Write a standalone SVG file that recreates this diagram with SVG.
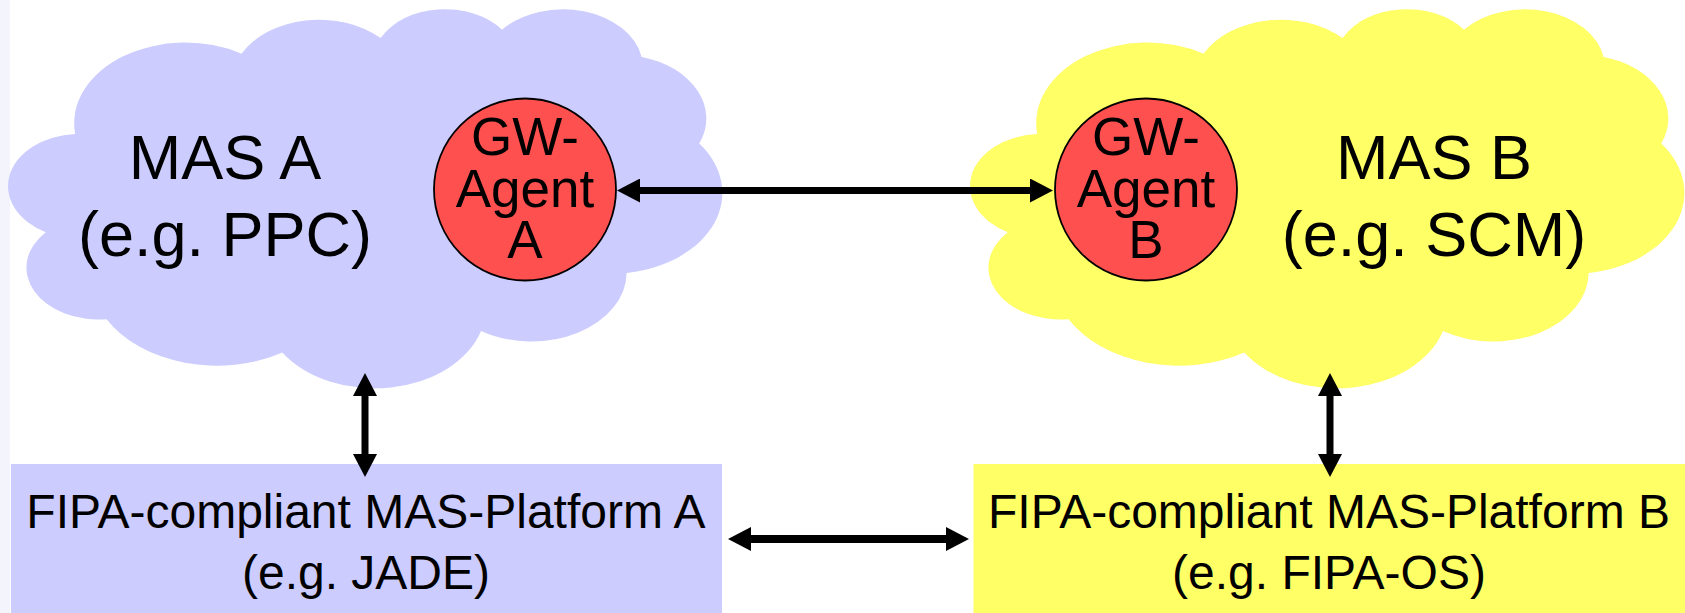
<svg xmlns="http://www.w3.org/2000/svg" xmlns:xlink="http://www.w3.org/1999/xlink" width="1685" height="613" viewBox="0 0 1685 613">
<style>
.lav{fill:#CCCCFF}
.yel{fill:#FFFF66}
.agent{fill:#FF5050;stroke:#000;stroke-width:1.8}
text{font-family:"Liberation Sans",Arial,sans-serif;fill:#000;text-anchor:middle}
.big{font-size:63px}
.mid{font-size:53px}
.small{font-size:48px}
.conn{stroke:#000;stroke-width:7;fill:none;marker-start:url(#head);marker-end:url(#head)}
</style>
<defs>
<path id="cloud" d="M 64.19 126.07 A 111.14 80.62 0 0 1 230.50 45.64 A 87.77 63.75 0 0 1 369.59 30.09 A 71.84 52.16 0 0 1 490.99 21.72 A 79.94 57.86 0 0 1 630.65 48.88 A 87.77 63.81 0 0 1 688.26 135.58 A 111.51 80.89 0 0 1 615.63 264.95 A 95.21 69.02 0 0 1 470.00 322.94 A 111.13 80.84 0 0 1 271.27 344.45 A 127.06 92.49 0 0 1 95.56 311.18 A 71.76 51.92 0 0 1 34.81 224.13 A 71.51 52.16 0 0 1 64.19 126.07 Z"/>
<marker id="head" markerUnits="userSpaceOnUse" viewBox="0 0 23 24" markerWidth="23" markerHeight="24" refX="0.5" refY="12" orient="auto-start-reverse">
<path d="M0,0 L23,12 L0,24 Z" fill="#000"/>
</marker>
</defs>
<rect x="0" y="0" width="1685" height="613" fill="#fff"/>
<rect x="0" y="0" width="10" height="613" fill="#F4F4FC"/>

<g id="mas-a">
<use xlink:href="#cloud" href="#cloud" class="lav" transform="translate(11,8)"/>
<text class="big" x="225" y="179">MAS A</text>
<text class="big" x="225" y="256">(e.g. PPC)</text>
</g>
<g id="mas-b">
<use xlink:href="#cloud" href="#cloud" class="yel" transform="translate(973,8)"/>
<text class="big" x="1434" y="179">MAS B</text>
<text class="big" x="1434" y="256">(e.g. SCM)</text>
</g>
<g id="gw-agent-a">
<circle class="agent" cx="525" cy="189.5" r="91"/>
<text class="mid" x="525" y="155">GW-</text>
<text class="mid" x="525" y="207">Agent</text>
<text class="mid" x="525" y="258">A</text>
</g>
<g id="gw-agent-b">
<circle class="agent" cx="1146" cy="189.5" r="91"/>
<text class="mid" x="1146" y="155">GW-</text>
<text class="mid" x="1146" y="207">Agent</text>
<text class="mid" x="1146" y="258">B</text>
</g>
<g id="platform-a">
<rect class="lav" x="11" y="464" width="711" height="149"/>
<text class="small" x="366" y="528">FIPA-compliant MAS-Platform A</text>
<text class="small" x="366" y="589">(e.g. JADE)</text>
</g>
<g id="platform-b">
<rect class="yel" x="973.5" y="464" width="711.5" height="149"/>
<text class="small" x="1329" y="528">FIPA-compliant MAS-Platform B</text>
<text class="small" x="1329" y="589">(e.g. FIPA-OS)</text>
</g>
<g id="connectors">
<line class="conn" x1="639.5" y1="190.5" x2="1030.5" y2="190.5"/>
<line class="conn" x1="365" y1="395.5" x2="365" y2="454.5"/>
<line class="conn" x1="1330" y1="395.5" x2="1330" y2="454.5"/>
<line class="conn" x1="750.5" y1="539" x2="946.5" y2="539" style="stroke-width:8"/>
</g>
</svg>
